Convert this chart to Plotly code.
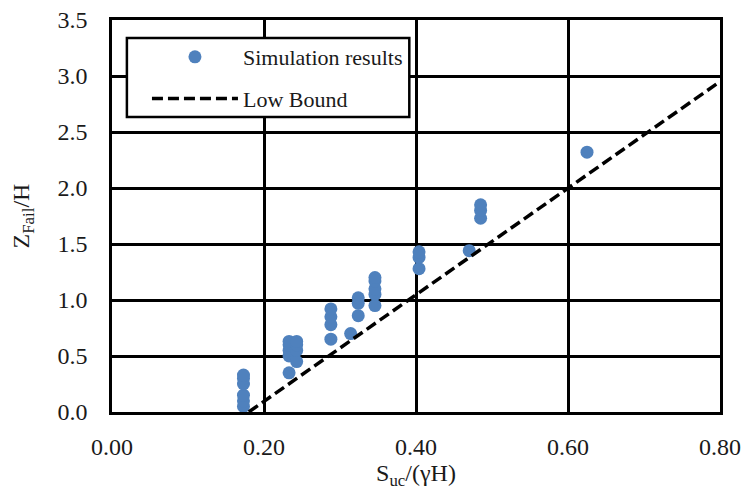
import plotly.graph_objects as go

sim_x = [0.173, 0.173, 0.173, 0.173, 0.173, 0.173,
         0.233, 0.233, 0.233, 0.233, 0.233,
         0.243, 0.243, 0.243, 0.243,
         0.288, 0.288, 0.288, 0.288,
         0.314,
         0.324, 0.324, 0.324,
         0.346, 0.346, 0.346, 0.346, 0.346,
         0.404, 0.404, 0.404,
         0.470,
         0.485, 0.485, 0.485,
         0.625]
sim_y = [0.05, 0.10, 0.15, 0.25, 0.30, 0.33,
         0.35, 0.50, 0.55, 0.60, 0.63,
         0.45, 0.55, 0.60, 0.63,
         0.65, 0.78, 0.85, 0.92,
         0.70,
         0.86, 0.97, 1.02,
         0.95, 1.05, 1.10, 1.17, 1.20,
         1.28, 1.38, 1.43,
         1.44,
         1.73, 1.80, 1.85,
         2.32]
bound_x = [0.18, 0.80]
bound_y = [0.0, 2.95]

x_ticks = [0.0, 0.2, 0.4, 0.6, 0.8]
x_ticklabels = ["0.00", "0.20", "0.40", "0.60", "0.80"]
y_ticks = [0.0, 0.5, 1.0, 1.5, 2.0, 2.5, 3.0, 3.5]
y_ticklabels = ["0.0", "0.5", "1.0", "1.5", "2.0", "2.5", "3.0", "3.5"]

font_family = "Liberation Serif"
text_color = "#1a1a1a"

fig = go.Figure()
fig.add_trace(go.Scatter(
    x=sim_x, y=sim_y, mode="markers", name="Simulation results",
    legendgroup="a",
    marker=dict(size=13, color="#4F81BD"),
))
fig.add_trace(go.Scatter(
    x=bound_x, y=bound_y, mode="lines", name="Low Bound",
    legendgroup="b",
    line=dict(color="black", width=3.5, dash="11px,5px"),
))

axis_common = dict(
    showline=True, linecolor="black", linewidth=2.5, mirror=True,
    showgrid=True, gridcolor="black", gridwidth=2.5,
    zeroline=False, ticks="", automargin=False,
    ticklabeloverflow="allow",
    tickfont=dict(family=font_family, size=24, color=text_color),
)

# legend frame (drawn as a box behind the legend entries)
fig.add_shape(type="rect", xref="paper", yref="paper",
              x0=0.0245, x1=0.489, y0=0.7526, y1=0.954,
              fillcolor="white", line=dict(color="black", width=2.5),
              layer="above")

fig.update_layout(
    width=741, height=483,
    margin=dict(l=104, r=29, t=12, b=79),
    paper_bgcolor="white", plot_bgcolor="white",
    font=dict(family=font_family, color=text_color),
    xaxis=dict(range=[0, 0.8], tickvals=x_ticks, ticktext=x_ticklabels,
               ticklabelstandoff=11,
               title=dict(text="S<sub>uc</sub>/(γH)", font=dict(size=24), standoff=4),
               **axis_common),
    yaxis=dict(range=[0, 3.5], tickvals=y_ticks, ticktext=y_ticklabels,
               ticklabelstandoff=17,
               title=dict(text="Z<sub>Fail</sub>/H", font=dict(size=24), standoff=22),
               **axis_common),
    legend=dict(x=0.0575, y=0.959, xanchor="left", yanchor="top",
                bgcolor="rgba(0,0,0,0)", borderwidth=0,
                font=dict(family=font_family, size=22, color=text_color),
                itemwidth=86, tracegroupgap=10),
    showlegend=True,
)

fig.write_html("out.html")
